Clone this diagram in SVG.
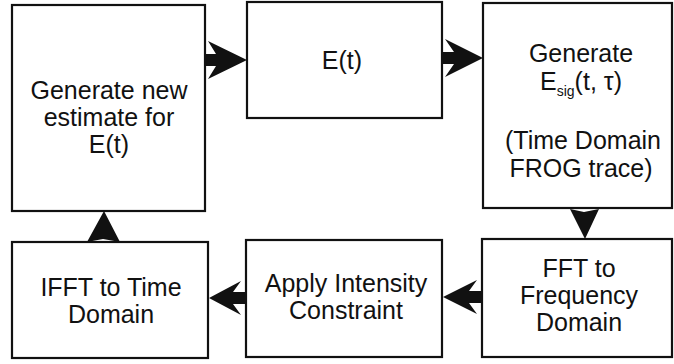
<svg xmlns="http://www.w3.org/2000/svg" width="674" height="364" viewBox="0 0 674 364">
<style>
.box{fill:#fff;stroke:#111;stroke-width:2.2}
.t{font-family:"Liberation Sans",Arial,Helvetica,sans-serif;font-size:25px;fill:#111;text-anchor:middle}
.arr{fill:#111;stroke:none}
</style>
<rect width="674" height="364" fill="#fff"/>
<g id="n1"><rect class="box" x="12" y="5" width="193" height="206"/>
<text class="t" x="109" y="99">Generate new</text>
<text class="t" x="109" y="126">estimate for</text>
<text class="t" x="109" y="153">E(t)</text></g>
<g id="n2"><rect class="box" x="247" y="2" width="195" height="116"/>
<text class="t" x="342" y="69">E(t)</text></g>
<g id="n3"><rect class="box" x="483" y="3" width="189" height="205"/>
<text class="t" x="581" y="62">Generate</text>
<text class="t" x="581" y="90">E<tspan font-size="14" dy="6">sig</tspan><tspan dy="-6">(t, τ)</tspan></text>
<text class="t" x="583" y="149">(Time Domain</text>
<text class="t" x="581" y="177">FROG trace)</text></g>
<g id="n4"><rect class="box" x="12" y="242" width="196" height="116"/>
<text class="t" x="111" y="296">IFFT to Time</text>
<text class="t" x="111" y="323">Domain</text></g>
<g id="n5"><rect class="box" x="246" y="240" width="196" height="117"/>
<text class="t" x="346" y="292">Apply Intensity</text>
<text class="t" x="346" y="319">Constraint</text></g>
<g id="n6"><rect class="box" x="482" y="239" width="190" height="118"/>
<text class="t" x="579" y="277">FFT to</text>
<text class="t" x="579" y="304">Frequency</text>
<text class="t" x="579" y="331">Domain</text></g>
<g id="connectors">
<path class="arr" d="M205,54 L216,54 L208,41 L247,60 L208,79 L216,66 L205,66 Z"/>
<path class="arr" d="M442,52 L454,52 L445,39 L483,58 L445,77 L454,64 L442,64 Z"/>
<path class="arr" d="M570,209 L584,212 L599,209 L585,239 Z"/>
<path class="arr" d="M482,291 L469,291 L477,280 L443,297 L477,314 L469,303 L482,303 Z"/>
<path class="arr" d="M246,292 L233,292 L241,281 L209,298 L241,315 L233,304 L246,304 Z"/>
<path class="arr" d="M87,242 L103,239 L120,242 L104,211 Z"/>
</g>
</svg>
